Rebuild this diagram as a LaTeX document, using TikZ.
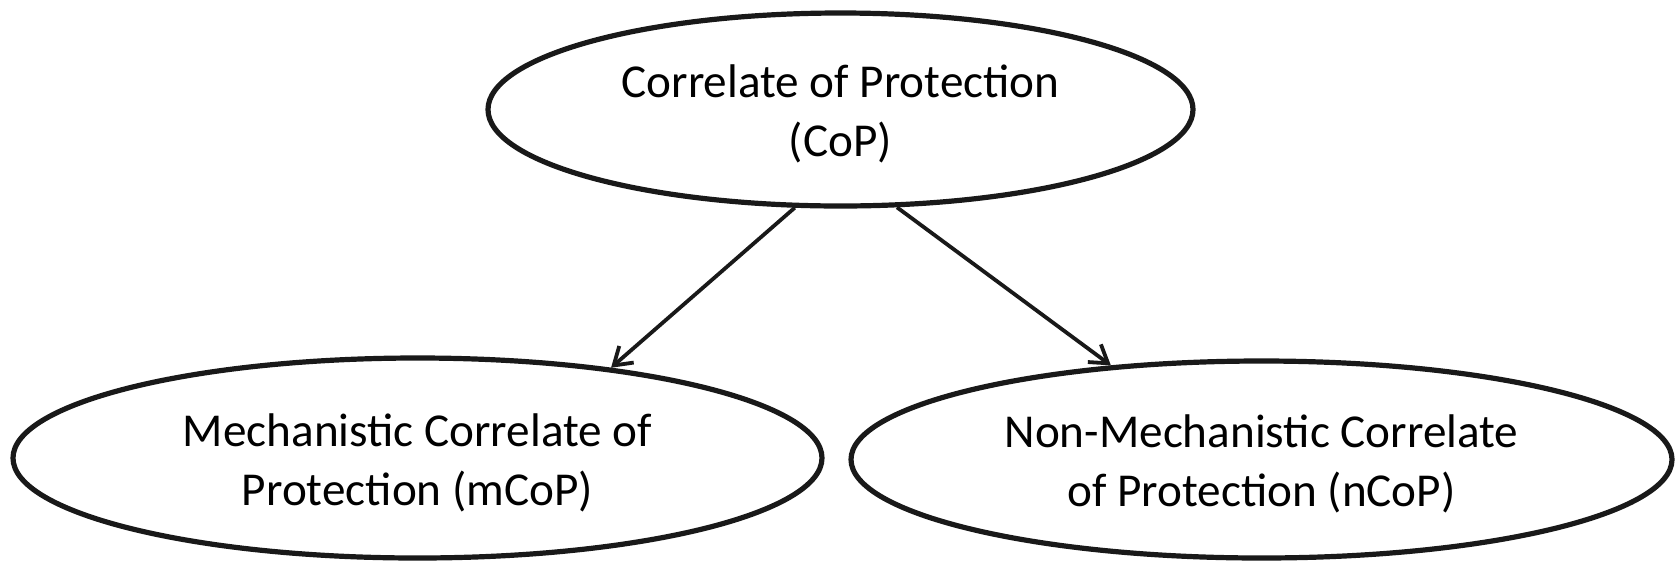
\documentclass[tikz,border=0pt]{standalone}
\usepackage{fontspec}
\setmainfont{Carlito}
\usetikzlibrary{shapes.geometric,arrows.meta}
\newcommand\raisedstrut{\rule{0pt}{\dimexpr0.72em+4pt\relax}}
\begin{document}
\begin{tikzpicture}[x=0.5pt,y=-0.5pt,
  oval/.style={ellipse,draw=black!90,line width=2.6pt,inner sep=0pt,align=center,
    font=\fontsize{23.6}{29.5}\selectfont},
  link/.style={draw=black!90,line width=1.9pt,-{Straight Barb[length=8.5pt,width=11pt,line width=1.9pt]}}]
\useasboundingbox (0,0) rectangle (1675,563);
\node[oval,minimum width=352.5pt,minimum height=96.5pt] (cop) at (840.5,109.5)
  {\raisedstrut Correlate of Protection\\(CoP)};
\node[oval,minimum width=404.5pt,minimum height=100pt] (mcop) at (417.5,458)
  {\raisedstrut Mechanistic Correlate of\\Protection (mCoP)};
\node[oval,minimum width=410.5pt,minimum height=98.5pt] (ncop) at (1261.5,459.5)
  {\raisedstrut Non-Mechanistic Correlate\\of Protection (nCoP)};
\draw[link] (cop.245.6) -- (mcop.25.8);
\draw[link] (cop.300.6) -- (ncop.148);
\end{tikzpicture}
\end{document}
